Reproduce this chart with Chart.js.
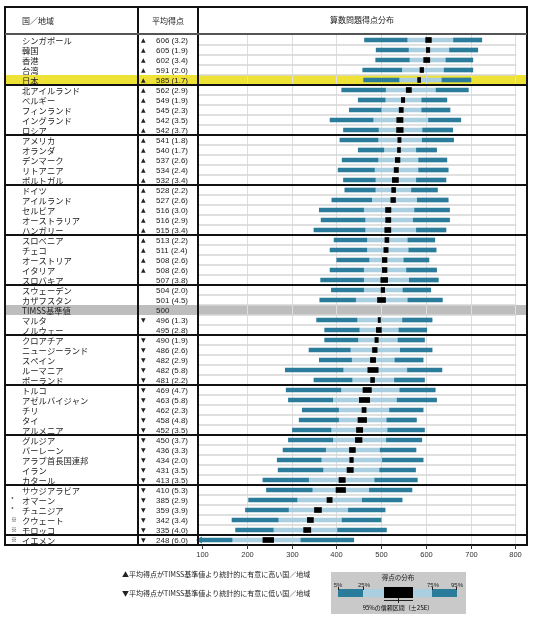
<!DOCTYPE html>
<html>
<head>
<meta charset="utf-8">
<script src="https://cdn.jsdelivr.net/npm/chart.js@4/dist/chart.umd.min.js"></script>
<style>
  html, body { margin: 0; padding: 0; background: #fff; }
  canvas { display: block; }
</style>
</head>
<body>
<canvas id="chart" width="533" height="620"></canvas>
<script>
// ------------------------
// Data
// ------------------------

const countries = [
  "シンガポール", "韓国", "香港", "台湾", "日本",
  "北アイルランド", "ベルギー", "フィンランド", "イングランド", "ロシア",
  "アメリカ", "オランダ", "デンマーク", "リトアニア", "ポルトガル",
  "ドイツ", "アイルランド", "セルビア", "オーストラリア", "ハンガリー",
  "スロベニア", "チェコ", "オーストリア", "イタリア", "スロバキア",
  "スウェーデン", "カザフスタン", "TIMSS基準値", "マルタ", "ノルウェー",
  "クロアチア", "ニュージーランド", "スペイン", "ルーマニア", "ポーランド",
  "トルコ", "アゼルバイジャン", "チリ", "タイ", "アルメニア",
  "グルジア", "バーレーン", "アラブ首長国連邦", "イラン", "カタール",
  "サウジアラビア", "オマーン", "チュニジア", "クウェート", "モロッコ",
  "イエメン"
];

const marks = [
  "", "", "", "", "", "", "", "", "", "",
  "", "", "", "", "", "", "", "", "", "",
  "", "", "", "", "", "", "", "", "", "",
  "", "", "", "", "", "", "", "", "", "",
  "", "", "", "", "", "", "*", "*", "※", "※",
  "※"
];

const means = [
  606, 605, 602, 591, 585, 562, 549, 545, 542, 542,
  541, 540, 537, 534, 532, 528, 527, 516, 516, 515,
  513, 511, 508, 508, 507, 504, 501, 500, 496, 495,
  490, 486, 482, 482, 481, 469, 463, 462, 458, 452,
  450, 436, 434, 431, 413, 410, 385, 359, 342, 335,
  248
];

const ses = [
  3.2, 1.9, 3.4, 2.0, 1.7, 2.9, 1.9, 2.3, 3.5, 3.7,
  1.8, 1.7, 2.6, 2.4, 3.4, 2.2, 2.6, 3.0, 2.9, 3.4,
  2.2, 2.4, 2.6, 2.6, 3.8, 2.0, 4.5, null, 1.3, 2.8,
  1.9, 2.6, 2.9, 5.8, 2.2, 4.7, 5.8, 2.3, 4.8, 3.5,
  3.7, 3.3, 2.0, 3.5, 3.5, 5.3, 2.9, 3.9, 3.4, 4.0,
  6.0
];

// "up" = significantly higher, "down" = significantly lower
const signif = [
  "up", "up", "up", "up", "up", "up", "up", "up", "up", "up",
  "up", "up", "up", "up", "up", "up", "up", "up", "up", "up",
  "up", "up", "up", "up", "", "", "", "", "down", "",
  "down", "down", "down", "down", "down", "down", "down", "down", "down", "down",
  "down", "down", "down", "down", "down", "down", "down", "down", "down", "down",
  "down"
];

const p5 = [
  463, 489, 488, 459, 461, 412, 449, 429, 386, 416,
  408, 449, 413, 404, 416, 419, 390, 362, 366, 350,
  395, 386, 401, 386, 365, 389, 363, null, 356, 374,
  374, 339, 362, 286, 350, 288, 293, 324, 317, 302,
  293, 281, 268, 270, 236, 244, 204, 197, 167, 175,
  60
];

const p25 = [
  558, 561, 563, 546, 540, 510, 509, 500, 482, 494,
  493, 506, 493, 485, 487, 487, 479, 461, 464, 464,
  468, 468, 473, 461, 461, 461, 443, null, 446, 451,
  448, 431, 434, 415, 435, 410, 392, 405, 405, 388,
  392, 376, 366, 370, 338, 346, 312, 293, 270, 259,
  167
];

const p75 = [
  662, 653, 645, 641, 636, 623, 591, 591, 606, 593,
  592, 579, 584, 584, 579, 568, 581, 575, 572, 579,
  560, 562, 551, 557, 563, 549, 560, null, 548, 540,
  538, 543, 531, 559, 530, 542, 536, 519, 513, 515,
  512, 498, 503, 497, 486, 474, 458, 427, 413, 403,
  321
];

const p95 = [
  725, 716, 705, 705, 701, 695, 647, 654, 678, 660,
  662, 624, 647, 650, 645, 626, 650, 653, 653, 645,
  620, 623, 607, 624, 628, 611, 637, null, 614, 602,
  597, 614, 594, 636, 597, 621, 624, 594, 579, 597,
  591, 578, 594, 577, 581, 569, 547, 509, 500, 512,
  439
];

const xTicks = [100, 200, 300, 400, 500, 600, 700, 800];

const DARK = "#2b7b9b";
const LIGHT = "#a9cfe0";
const JAPAN_ROW = 4;
const TIMSS_ROW = 27;

function span(a, b) {
  return a.map((v, i) => (v == null || b[i] == null) ? null : [v, b[i]]);
}

// ------------------------
// Table / frame drawing
// ------------------------

const tablePlugin = {

  id: "table",

  beforeDatasetsDraw(chart) {

    const ctx = chart.ctx;
    const area = chart.chartArea;
    const x = chart.scales.x;
    const y = chart.scales.y;
    const half = (y.getPixelForValue(1) - y.getPixelForValue(0)) / 2;

    ctx.save();

    // highlighted rows
    let cy = y.getPixelForValue(JAPAN_ROW);
    ctx.fillStyle = "#efe236";
    ctx.fillRect(5, cy - half, 522, half * 2);

    cy = y.getPixelForValue(TIMSS_ROW);
    ctx.fillStyle = "#bdbdbd";
    ctx.fillRect(6, cy - half, 521, half * 2);

    // vertical grid
    ctx.strokeStyle = "#dedede";
    ctx.lineWidth = 1;
    xTicks.slice(1).forEach(v => {
      const px = Math.round(x.getPixelForValue(v)) + 0.5;
      ctx.beginPath();
      ctx.moveTo(px, area.top);
      ctx.lineTo(px, area.bottom);
      ctx.stroke();
    });

    // row lines
    ctx.strokeStyle = "#d6d6d6";
    ctx.lineWidth = 1.5;
    countries.forEach((c, i) => {
      const ly = y.getPixelForValue(i) + half;
      ctx.beginPath();
      ctx.moveTo(area.left, ly);
      ctx.lineTo(x.getPixelForValue(800) + 1, ly);
      ctx.stroke();
    });

    ctx.restore();

  },

  afterDatasetsDraw(chart) {

    const ctx = chart.ctx;
    const area = chart.chartArea;
    const x = chart.scales.x;
    const y = chart.scales.y;
    const half = (y.getPixelForValue(1) - y.getPixelForValue(0)) / 2;

    ctx.save();

    // clipped bar arrows
    ctx.fillStyle = DARK;
    p5.forEach((v, i) => {
      if (v != null && v < x.min) {
        const cy = y.getPixelForValue(i);
        ctx.beginPath();
        ctx.moveTo(area.left - 2, cy);
        ctx.lineTo(area.left + 4, cy - 3.5);
        ctx.lineTo(area.left + 4, cy + 3.5);
        ctx.closePath();
        ctx.fill();
      }
    });

    // frame
    ctx.strokeStyle = "#111";
    ctx.lineWidth = 2;
    ctx.strokeRect(5, 7, 522, area.bottom - 7);

    ctx.beginPath();
    ctx.moveTo(138, 7);
    ctx.lineTo(138, area.bottom);
    ctx.moveTo(area.left, 7);
    ctx.lineTo(area.left, area.bottom);
    ctx.stroke();

    for (let i = 5; i < countries.length; i += 5) {
      const ly = y.getPixelForValue(i) - half;
      ctx.beginPath();
      ctx.moveTo(5, ly);
      ctx.lineTo(527, ly);
      ctx.stroke();
    }

    ctx.strokeStyle = "#555";
    ctx.beginPath();
    ctx.moveTo(5, area.top - 1);
    ctx.lineTo(527, area.top - 1);
    ctx.stroke();

    // header
    ctx.fillStyle = "#222";
    ctx.textBaseline = "middle";
    ctx.font = '8px "Noto Sans CJK JP"';
    ctx.textAlign = "left";
    ctx.fillText("国／地域", 22, 21);
    ctx.textAlign = "center";
    ctx.fillText("平均得点", 168, 21);
    ctx.fillText("算数問題得点分布", 362, 20);

    // rows
    countries.forEach((c, i) => {

      const cy = y.getPixelForValue(i) + 0.5;

      ctx.fillStyle = "#222";
      ctx.textAlign = "left";
      ctx.font = '8.3px "Noto Sans CJK JP"';
      ctx.fillText(c, 22, cy);

      if (marks[i]) {
        ctx.font = '6px "Noto Sans CJK JP"';
        ctx.fillText(marks[i], 11, cy - 1);
      }

      ctx.font = '6px "DejaVu Sans"';
      if (signif[i] === "up") ctx.fillText("▲", 141, cy);
      if (signif[i] === "down") ctx.fillText("▼", 141, cy);

      ctx.font = '8px "Liberation Sans"';
      const txt = ses[i] == null ? String(means[i]) : `${means[i]} (${ses[i].toFixed(1)})`;
      ctx.fillText(txt, 156, cy);

    });

    // x axis
    ctx.strokeStyle = "#333";
    ctx.lineWidth = 1;
    ctx.fillStyle = "#333";
    ctx.font = '7.5px "Liberation Sans"';
    ctx.textAlign = "center";
    xTicks.forEach(v => {
      const px = Math.round(x.getPixelForValue(v)) + 0.5;
      ctx.beginPath();
      ctx.moveTo(px, area.bottom);
      ctx.lineTo(px, area.bottom + 4);
      ctx.stroke();
      ctx.fillText(String(v), px, area.bottom + 10);
    });

    // legend notes
    ctx.fillStyle = "#222";
    ctx.textAlign = "left";
    ctx.font = '7px "Noto Sans CJK JP"';
    ctx.fillText("▲平均得点がTIMSS基準値より統計的に有意に高い国／地域", 122, 574);
    ctx.fillText("▼平均得点がTIMSS基準値より統計的に有意に低い国／地域", 122, 593);

    // legend key
    ctx.fillStyle = "#c9c9c9";
    ctx.fillRect(331, 572, 135, 42);

    ctx.fillStyle = "#222";
    ctx.textAlign = "center";
    ctx.font = '6.5px "Noto Sans CJK JP"';
    ctx.fillText("得点の分布", 398, 578);
    ctx.font = '6px "Liberation Sans"';
    ctx.fillText("5%", 338, 585);
    ctx.fillText("25%", 364, 585);
    ctx.fillText("75%", 433, 585);
    ctx.fillText("95%", 457, 585);

    ctx.fillStyle = DARK;
    ctx.fillRect(338, 589, 25, 8);
    ctx.fillRect(432, 589, 25, 8);
    ctx.fillStyle = LIGHT;
    ctx.fillRect(363, 589, 69, 8);
    ctx.fillStyle = "#000";
    ctx.fillRect(384, 587, 29, 11);

    ctx.strokeStyle = "#222";
    ctx.beginPath();
    [338.5, 363.5, 432.5, 456.5].forEach(px => {
      ctx.moveTo(px, 587);
      ctx.lineTo(px, 590);
    });
    ctx.moveTo(384, 600.5);
    ctx.lineTo(413, 600.5);
    ctx.moveTo(398.5, 598);
    ctx.lineTo(398.5, 603);
    ctx.stroke();

    ctx.font = '6px "Noto Sans CJK JP"';
    ctx.fillText("95%の信頼区間（±2SE）", 398, 608);

    ctx.restore();

  }

};

// ------------------------
// Chart
// ------------------------

new Chart(document.getElementById("chart"), {

  type: "bar",

  data: {

    labels: countries,

    datasets: [

      {
        label: "95% CI",
        data: means.map((m, i) => ses[i] == null ? null : [m - 2 * ses[i], m + 2 * ses[i]]),
        backgroundColor: "#000",
        barThickness: 5,
        grouped: false,
        order: 0
      },

      {
        label: "5-25",
        data: span(p5, p25),
        backgroundColor: DARK,
        barThickness: 4,
        grouped: false,
        order: 1
      },

      {
        label: "25-75",
        data: span(p25, p75),
        backgroundColor: LIGHT,
        barThickness: 4,
        grouped: false,
        order: 2
      },

      {
        label: "75-95",
        data: span(p75, p95),
        backgroundColor: DARK,
        barThickness: 4,
        grouped: false,
        order: 1
      }

    ]

  },

  options: {

    indexAxis: "y",
    responsive: false,
    animation: false,
    devicePixelRatio: 1,

    layout: {
      padding: { left: 198, top: 35, right: 6, bottom: 75 }
    },

    plugins: {
      legend: { display: false },
      tooltip: { enabled: false }
    },

    scales: {

      x: {
        display: false,
        min: 91,
        max: 826
      },

      y: {
        display: false
      }

    }

  },

  plugins: [tablePlugin]

});
</script>
</body>
</html>
